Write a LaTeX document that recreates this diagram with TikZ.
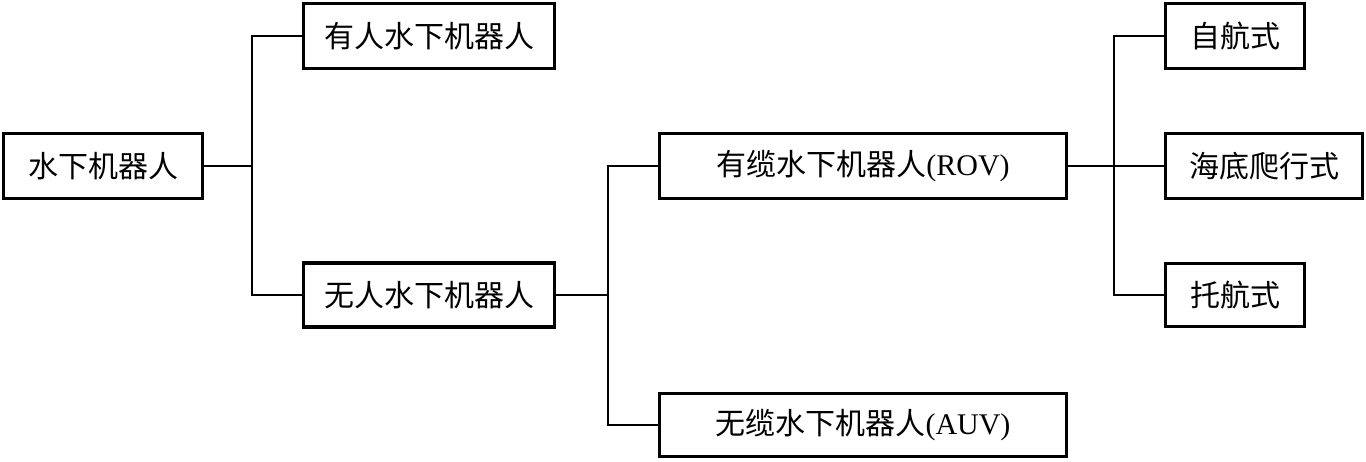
\documentclass[tikz,border=0pt]{standalone}
\usepackage{fontspec}
\setmainfont{Liberation Serif}
\newfontfamily\cjk{Noto Sans CJK SC}
\begin{document}
\begin{tikzpicture}[x=1pt,y=-1pt,
  box/.style={draw=black, line width=3.6pt, inner sep=0pt, font=\fontsize{30}{30}\selectfont},
  conn/.style={draw=black, line width=1.4pt}]
\useasboundingbox (0,0) rectangle (1366,461);
\node[box, minimum width=199, minimum height=65] (A) at (103,166) {\cjk 水下机器人};
\node[box, minimum width=251, minimum height=65] (B) at (429,36) {\cjk 有人水下机器人};
\node[box, minimum width=251, minimum height=64] (C) at (429,295) {\cjk 无人水下机器人};
\node[box, minimum width=407, minimum height=65] (D) at (863,166) {{\cjk 有缆水下机器人}(ROV)};
\node[box, minimum width=407, minimum height=63] (E) at (863,425) {{\cjk 无缆水下机器人}(AUV)};
\node[box, minimum width=139, minimum height=65] (F) at (1235,36) {\cjk 自航式};
\node[box, minimum width=197, minimum height=65] (G) at (1264,166) {\cjk 海底爬行式};
\node[box, minimum width=139, minimum height=63] (H) at (1235,295) {\cjk 托航式};
\coordinate (j1) at (252,166);
\coordinate (j2) at (608,295);
\coordinate (j3) at (1114,166);
\draw[conn] (A.east) -- (j1);
\draw[conn] (B.west) -| (j1);
\draw[conn] (C.west) -| (j1);
\draw[conn] (C.east) -- (j2);
\draw[conn] (D.west) -| (j2);
\draw[conn] (E.west) -| (j2);
\draw[conn] (D.east) -- (G.west);
\draw[conn] (F.west) -| (j3);
\draw[conn] (H.west) -| (j3);
\end{tikzpicture}
\end{document}
